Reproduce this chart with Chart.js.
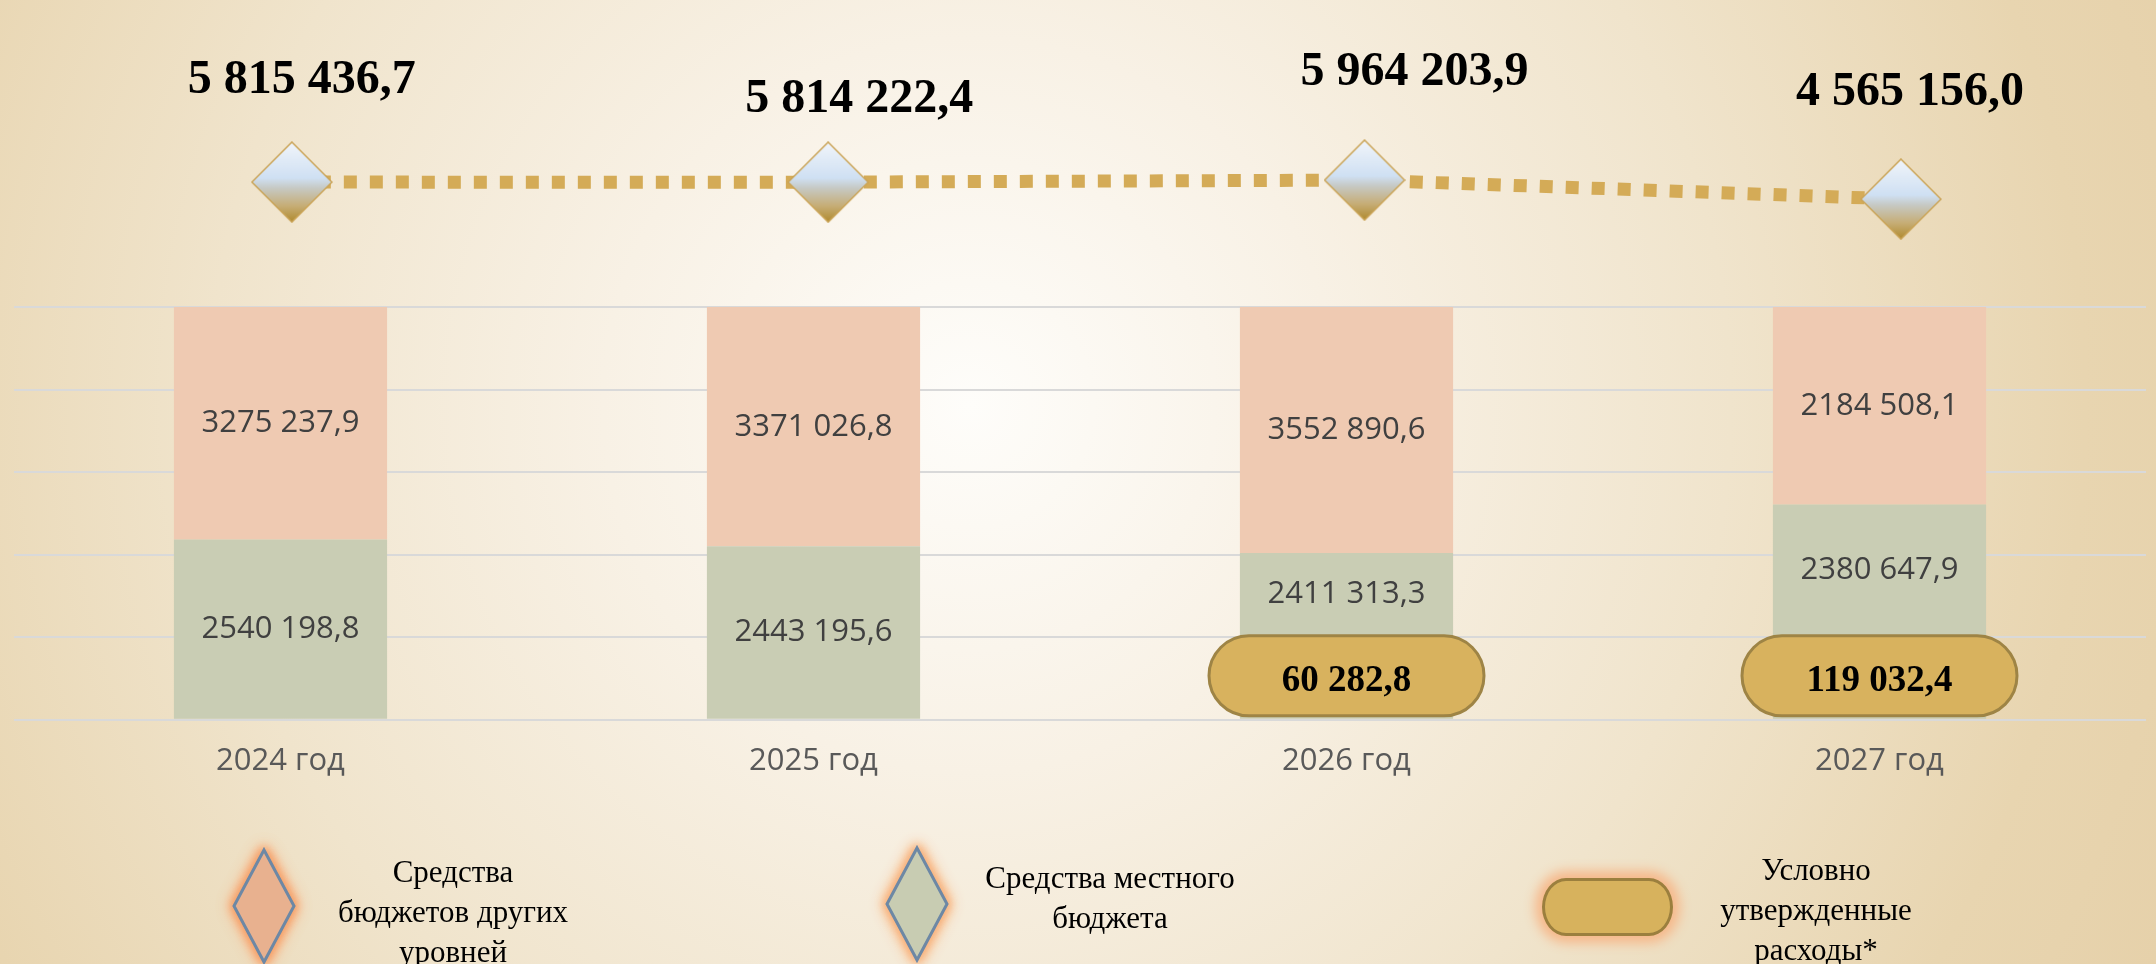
<!DOCTYPE html>
<html lang="ru">
<head>
<meta charset="utf-8">
<title>Расходы бюджета 2024–2027</title>
<script src="https://cdn.jsdelivr.net/npm/chart.js@4.4.1/dist/chart.umd.min.js"></script>
<style>
  html, body { margin: 0; padding: 0; }
  body {
    width: 2156px; height: 964px; overflow: hidden;
    background: radial-gradient(circle at 45% 42%, #fefdfa 0%, #f8f1e5 28%, #f0e4cc 58%, #e8d5b0 85%, #e6d1aa 100%);
    font-family: 'Liberation Serif', 'Times New Roman', serif;
  }
  #wrap { position: relative; width: 2156px; height: 964px; }
  #chart { position: absolute; left: 0; top: 0; }
  .mark { position: absolute; overflow: visible; }
  .legtext { position: absolute; width: 440px; text-align: center; font-size: 31px; line-height: 40px; color: #000; }
  .pill {
    position: absolute; box-sizing: border-box; width: 131px; height: 58px;
    background: #d7b25d; border: 3px solid #9b7f3e; border-radius: 24px / 29px;
    box-shadow: 0 0 12px 7px #f6b88a;
  }
</style>
</head>
<body>
<div id="wrap">
  <canvas id="chart" width="2156" height="964"></canvas>

  <svg class="mark" width="80" height="132" style="left:224px; top:840px; filter: drop-shadow(0 0 4px #f49a5e) drop-shadow(0 0 6px #f6a877) drop-shadow(0 0 4px #f8bb8c);">
    <polygon points="40,10 70,66 40,122 10,66" fill="#e8b18f" stroke="#6d88a5" stroke-width="3"/>
  </svg>
  <div class="legtext" style="left:233px; top:852px;">Средства<br>бюджетов других<br>уровней</div>

  <svg class="mark" width="80" height="132" style="left:877px; top:838px; filter: drop-shadow(0 0 4px #f6aa72) drop-shadow(0 0 6px #f8ba88) drop-shadow(0 0 4px #f9c79c);">
    <polygon points="40,10 70,66 40,122 10,66" fill="#c8ccb2" stroke="#6d88a5" stroke-width="3"/>
  </svg>
  <div class="legtext" style="left:890px; top:858px;">Средства местного<br>бюджета</div>

  <div class="pill" style="left:1542px; top:878px;"></div>
  <div class="legtext" style="left:1596px; top:850px;">Условно<br>утвержденные<br>расходы*</div>
</div>

<script>
const years = ['2024 год', '2025 год', '2026 год', '2027 год'];
const otherLevels = [3275237.9, 3371026.8, 3552890.6, 2184508.1];
const localBudget = [2540198.8, 2443195.6, 2411313.3, 2380647.9];
const totals = [5815436.7, 5814222.4, 5964203.9, 4565156.0];
const conditional = [null, null, 60282.8, 119032.4];

// shares of each year's bar (bars are drawn 100% stacked)
const localPct = localBudget.map((v, i) => v / (v + otherLevels[i]) * 100);
const otherPct = otherLevels.map((v, i) => v / (v + localBudget[i]) * 100);

// where the total labels sit relative to their diamond
const totalOffsets = [[10, -102], [31, -83], [50, -108], [9, -107]];
const PILL_W = 275, PILL_H = 80, PILL_GAP = 3;

function fmtSeg(v) {
    const [i, d] = v.toFixed(1).split('.');
    return i.slice(0, -3) + ' ' + i.slice(-3) + ',' + d;
}
function fmtFull(v) {
    const [i, d] = v.toFixed(1).split('.');
    return i.replace(/\B(?=(\d{3})+(?!\d))/g, ' ') + ',' + d;
}

function makeDiamond(size) {
    const c = document.createElement('canvas');
    c.width = size + 2;
    c.height = size + 2;
    const g = c.getContext('2d');
    const h = c.width / 2;
    const grad = g.createLinearGradient(0, 1, 0, size + 1);
    grad.addColorStop(0, '#f1f5fa');
    grad.addColorStop(0.45, '#cfe0f3');
    grad.addColorStop(0.58, '#c6c8c2');
    grad.addColorStop(0.8, '#c6ad75');
    grad.addColorStop(1, '#b08a2e');
    g.beginPath();
    g.moveTo(h, 1);
    g.lineTo(size + 1, h);
    g.lineTo(h, size + 1);
    g.lineTo(1, h);
    g.closePath();
    g.fillStyle = grad;
    g.fill();
    g.lineWidth = 1.5;
    g.strokeStyle = '#caa458';
    g.stroke();
    return c;
}

function pillPath(ctx, x, y, w, h, r) {
    ctx.beginPath();
    ctx.moveTo(x + r, y);
    ctx.lineTo(x + w - r, y);
    ctx.arc(x + w - r, y + r, r, -Math.PI / 2, Math.PI / 2);
    ctx.lineTo(x + r, y + h);
    ctx.arc(x + r, y + r, r, Math.PI / 2, Math.PI * 1.5);
    ctx.closePath();
}

const labelPlugin = {
    id: 'segLabels',
    afterDatasetsDraw(chart) {
        const ctx = chart.ctx;
        const localMeta = chart.getDatasetMeta(0);
        const otherMeta = chart.getDatasetMeta(1);
        const lineMeta = chart.getDatasetMeta(2);
        ctx.save();
        ctx.textAlign = 'center';
        ctx.textBaseline = 'middle';

        years.forEach((_, i) => {
            const loc = localMeta.data[i];
            const oth = otherMeta.data[i];
            let localMid = (loc.y + loc.base) / 2;

            if (conditional[i] != null) {
                const top = loc.base - PILL_GAP - PILL_H;
                localMid = (loc.y + top) / 2;
                pillPath(ctx, loc.x - PILL_W / 2, top, PILL_W, PILL_H, PILL_H / 2);
                ctx.fillStyle = '#d8b25e';
                ctx.fill();
                ctx.lineWidth = 3;
                ctx.strokeStyle = '#9e8445';
                ctx.stroke();
                ctx.fillStyle = '#000';
                ctx.font = 'bold 37px "Liberation Serif", serif';
                ctx.fillText(fmtFull(conditional[i]), loc.x, top + PILL_H / 2 + 6);
            }

            ctx.fillStyle = '#404040';
            ctx.font = '31px "Open Sans", sans-serif';
            ctx.fillText(fmtSeg(localBudget[i]), loc.x, localMid);
            ctx.fillText(fmtSeg(otherLevels[i]), oth.x, (oth.y + oth.base) / 2);

            const pt = lineMeta.data[i];
            ctx.fillStyle = '#000';
            ctx.font = 'bold 48px "Liberation Serif", serif';
            ctx.fillText(fmtFull(totals[i]), pt.x + totalOffsets[i][0], pt.y + totalOffsets[i][1]);
        });
        ctx.restore();
    }
};

new Chart(document.getElementById('chart'), {
    data: {
        labels: years,
        datasets: [
            {
                type: 'bar',
                label: 'Средства местного бюджета',
                data: localPct,
                backgroundColor: '#c9cdb4',
                stack: 'budget',
                grouped: false,
                barPercentage: 0.4,
                categoryPercentage: 1,
                xAxisID: 'x',
                yAxisID: 'y'
            },
            {
                type: 'bar',
                label: 'Средства бюджетов других уровней',
                data: otherPct,
                backgroundColor: '#efcab2',
                stack: 'budget',
                grouped: false,
                barPercentage: 0.4,
                categoryPercentage: 1,
                xAxisID: 'x',
                yAxisID: 'y'
            },
            {
                type: 'line',
                label: 'Всего',
                data: totals.map((v, i) => ({ x: i, y: v })),
                xAxisID: 'xLine',
                yAxisID: 'yLine',
                borderColor: '#d4ab57',
                borderWidth: 13,
                borderDash: [13, 13],
                tension: 0,
                pointStyle: makeDiamond(80),
                pointRadius: 40,
                fill: false,
                clip: false
            }
        ]
    },
    options: {
        responsive: false,
        animation: false,
        layout: { autoPadding: false, padding: { left: 14, right: 10, top: 0, bottom: 169 } },
        plugins: { legend: { display: false }, tooltip: { enabled: false } },
        scales: {
            x: {
                stacked: true,
                grid: { display: false },
                border: { display: false },
                ticks: { color: '#595959', padding: 15, font: { family: 'Open Sans', size: 31 } }
            },
            y: {
                stacked: true,
                min: 0,
                max: 174.4,
                afterBuildTicks: s => { s.ticks = s.ticks.filter(t => t.value <= 100); },
                ticks: { display: false, stepSize: 20 },
                grid: { color: '#d9d9d9', lineWidth: 2, drawTicks: false },
                border: { display: false }
            },
            xLine: { type: 'linear', display: false, min: -0.518, max: 3.457 },
            yLine: { type: 'linear', display: false, min: -33700000, max: 19200000 }
        }
    },
    plugins: [labelPlugin]
});
</script>
</body>
</html>
